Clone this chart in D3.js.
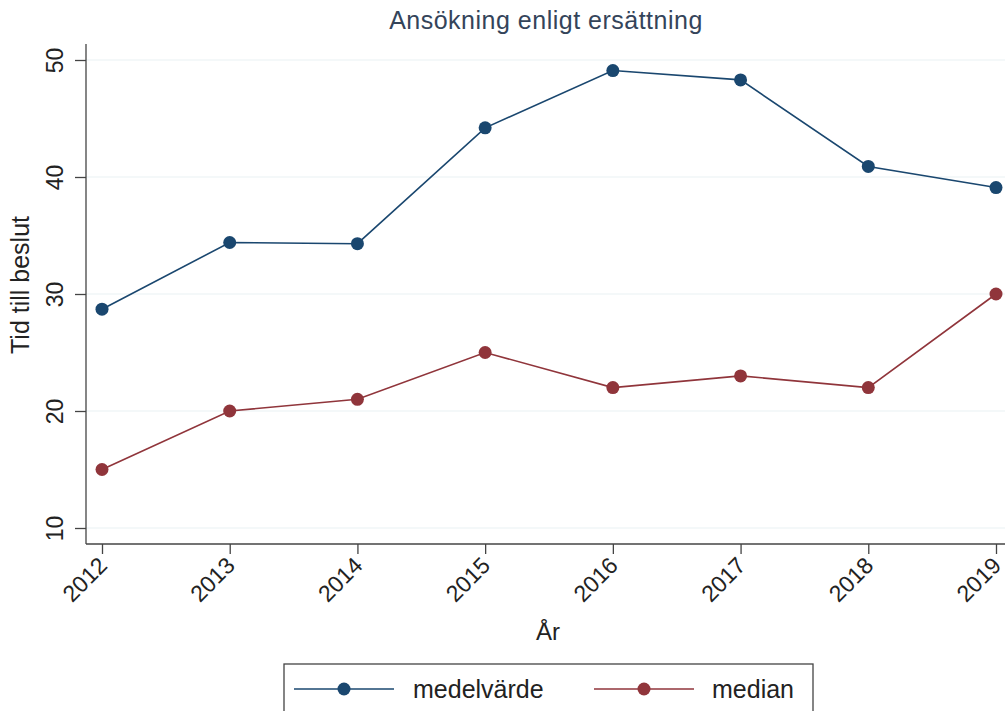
<!DOCTYPE html>
<html>
<head>
<meta charset="utf-8">
<script src="https://cdn.jsdelivr.net/npm/d3@7"></script>
<style>
  body { margin: 0; background: #fff; }
  text { font-family: Arial, "Liberation Sans", sans-serif; }
</style>
</head>
<body>
<div id="chart"></div>
<script>
const years = [2012, 2013, 2014, 2015, 2016, 2017, 2018, 2019];
const medelvarde = [28.7, 34.4, 34.3, 44.2, 49.1, 48.3, 40.9, 39.1];
const median = [15, 20, 21, 25, 22, 23, 22, 30];
const yTicks = [10, 20, 30, 40, 50];
const seriesNames = ['medelvärde', 'median'];
const seriesColors = ['#1a476f', '#90353b'];

const W = 1005, H = 711;
const margin = { top: 44, right: 9, bottom: 167, left: 86 };

const svg = d3.select('#chart').append('svg')
    .attr('width', W)
    .attr('height', H);

const x = d3.scalePoint()
    .domain(years)
    .range([102, 996]);

const y = d3.scaleLinear()
    .domain([10, 50])
    .range([528, 60]);

// grid
svg.append('g')
  .selectAll('line')
  .data(yTicks)
  .enter().append('line')
    .attr('x1', margin.left)
    .attr('x2', W)
    .attr('y1', (d) => y(d))
    .attr('y2', (d) => y(d))
    .style('stroke', '#eaf2f3')
    .style('stroke-width', 1.2);

// y axis
const yAxis = svg.append('g')
    .attr('transform', `translate(${margin.left},0)`)
    .call(d3.axisLeft(y).tickValues(yTicks).tickSize(11).tickSizeOuter(0));
yAxis.select('.domain').attr('d', `M0,${margin.top}V${H - margin.bottom}`);
yAxis.selectAll('.domain, line').style('stroke', '#444').style('stroke-width', 1.3);
yAxis.selectAll('text')
    .style('font-size', '23px')
    .style('fill', '#222')
    .attr('x', 0)
    .attr('dy', 0)
    .attr('transform', 'translate(-23,0) rotate(-90)')
    .style('text-anchor', 'middle');

// x axis
const xAxis = svg.append('g')
    .attr('transform', `translate(0,${H - margin.bottom})`)
    .call(d3.axisBottom(x).tickSize(10).tickSizeOuter(0));
xAxis.select('.domain').attr('d', `M${margin.left},0H${W}`);
xAxis.selectAll('.domain, line').style('stroke', '#444').style('stroke-width', 1.3);
xAxis.selectAll('text')
    .style('font-size', '23px')
    .style('fill', '#222')
    .attr('y', 0)
    .attr('dy', 0)
    .attr('transform', 'translate(6,23) rotate(-45)')
    .style('text-anchor', 'end');

// axis titles
svg.append('text')
    .attr('transform', 'translate(29,285) rotate(-90)')
    .style('text-anchor', 'middle')
    .style('font-size', '25px')
    .style('fill', '#222')
    .text('Tid till beslut');

svg.append('text')
    .attr('x', 548)
    .attr('y', 640)
    .style('text-anchor', 'middle')
    .style('font-size', '24px')
    .style('fill', '#222')
    .text('År');

svg.append('text')
    .attr('x', 546)
    .attr('y', 29)
    .style('text-anchor', 'middle')
    .style('font-size', '25px')
    .style('letter-spacing', '0.5px')
    .style('fill', '#34445a')
    .text('Ansökning enligt ersättning');

// series
const allSeries = [medelvarde, median];
const line = d3.line()
    .x((d, i) => x(years[i]))
    .y((d) => y(d));

allSeries.forEach((values, s) => {
  svg.append('path')
      .datum(values)
      .attr('d', line)
      .style('fill', 'none')
      .style('stroke', seriesColors[s])
      .style('stroke-width', 1.6);
  svg.append('g')
    .selectAll('circle')
    .data(values)
    .enter().append('circle')
      .attr('cx', (d, i) => x(years[i]))
      .attr('cy', (d) => y(d))
      .attr('r', 6.5)
      .style('fill', seriesColors[s]);
});

// legend
const legend = svg.append('g');
legend.append('rect')
    .attr('x', 284)
    .attr('y', 664)
    .attr('width', 529)
    .attr('height', 60)
    .style('fill', '#fff')
    .style('stroke', '#444')
    .style('stroke-width', 1.3);

const legendX = [294, 594];
const textX = [413, 712];
seriesNames.forEach((name, s) => {
  legend.append('line')
      .attr('x1', legendX[s])
      .attr('x2', legendX[s] + 100)
      .attr('y1', 689)
      .attr('y2', 689)
      .style('stroke', seriesColors[s])
      .style('stroke-width', 1.6);
  legend.append('circle')
      .attr('cx', legendX[s] + 50)
      .attr('cy', 689)
      .attr('r', 6.5)
      .style('fill', seriesColors[s]);
  legend.append('text')
      .attr('x', textX[s])
      .attr('y', 698)
      .style('font-size', '25px')
      .style('fill', '#222')
      .text(name);
});
</script>
</body>
</html>
